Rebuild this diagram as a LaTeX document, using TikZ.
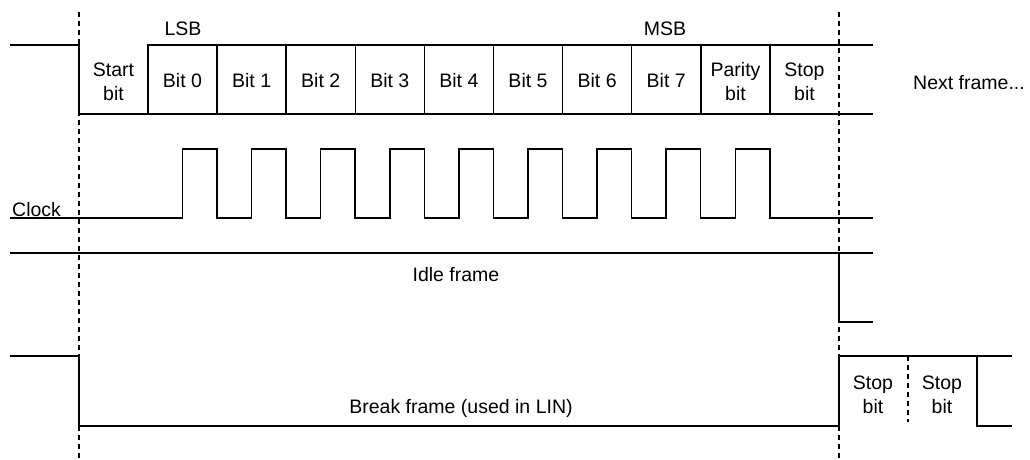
\documentclass[tikz,border=0pt]{standalone}
\usepackage{fontspec}
\setmainfont{Liberation Sans}
\begin{document}
\begin{tikzpicture}[x=1pt,y=-1pt,
  wave/.style={line width=1.5pt, line join=miter},
  guide/.style={line width=1.5pt, dash pattern=on 5pt off 4pt},
  lbl/.style={font=\fontsize{19.5}{24}\selectfont, inner sep=0pt, align=center},
]
\useasboundingbox (0,0) rectangle (1030,459);
% guide lines
\draw[guide] (79,12) coordinate (gl1) -- (79,459) coordinate (gl2);
\draw[guide] (839,12) coordinate (gr1) -- (839,459) coordinate (gr2);
% ---------- data frame ----------
\draw[wave] (10,45) -- (79,45) -- (79,114) -- (873,114);
\draw[wave] (148,114) -- (148,45) -- (873,45);
\foreach \k in {2,...,10}{
  \draw[wave] ({148+69.1*(\k-1)},45) -- ({148+69.1*(\k-1)},114);
}
\node[lbl] (start) at (113.5,82) {Start\\bit};
\foreach \k in {0,...,7}{
  \node[lbl, anchor=base] (bit\k) at ({182.5+69.1*\k},87) {Bit \k};
}
\node[lbl] (parity) at (735.5,82) {Parity\\bit};
\node[lbl] (stop) at (804.5,82) {Stop\\bit};
\node[lbl, anchor=base] (lsb) at (183,35) {LSB};
\node[lbl, anchor=base] (msb) at (665,35) {MSB};
\node[lbl, anchor=base] (next) at (969,89) {Next frame...};
% ---------- clock ----------
\draw[wave] (10,218) -- (182.5,218)
  \foreach \k in {0,...,8}{
    -- ({182.5+69.1*\k},149) -- ({217+69.1*\k},149) -- ({217+69.1*\k},218) -- ({251.6+69.1*\k},218)
  } -- (873,218);
\node[lbl, anchor=base west] (clock) at (12,216) {Clock};
% ---------- idle frame ----------
\draw[wave] (10,253) -- (873,253);
\draw[wave] (839,253) -- (839,322) -- (873,322);
\node[lbl, anchor=base] (idle) at (456,281) {Idle frame};
% ---------- break frame ----------
\draw[wave] (10,356) -- (79,356) -- (79,426) -- (839,426) -- (839,356) -- (1012,356);
\draw[wave] (977,356) -- (977,426) -- (1012,426);
\draw[guide] (908,356) -- (908,422);
\node[lbl, anchor=base] (break) at (461,413) {Break frame (used in LIN)};
\node[lbl] (stop1) at (873,395) {Stop\\bit};
\node[lbl] (stop2) at (942,395) {Stop\\bit};
\end{tikzpicture}
\end{document}
